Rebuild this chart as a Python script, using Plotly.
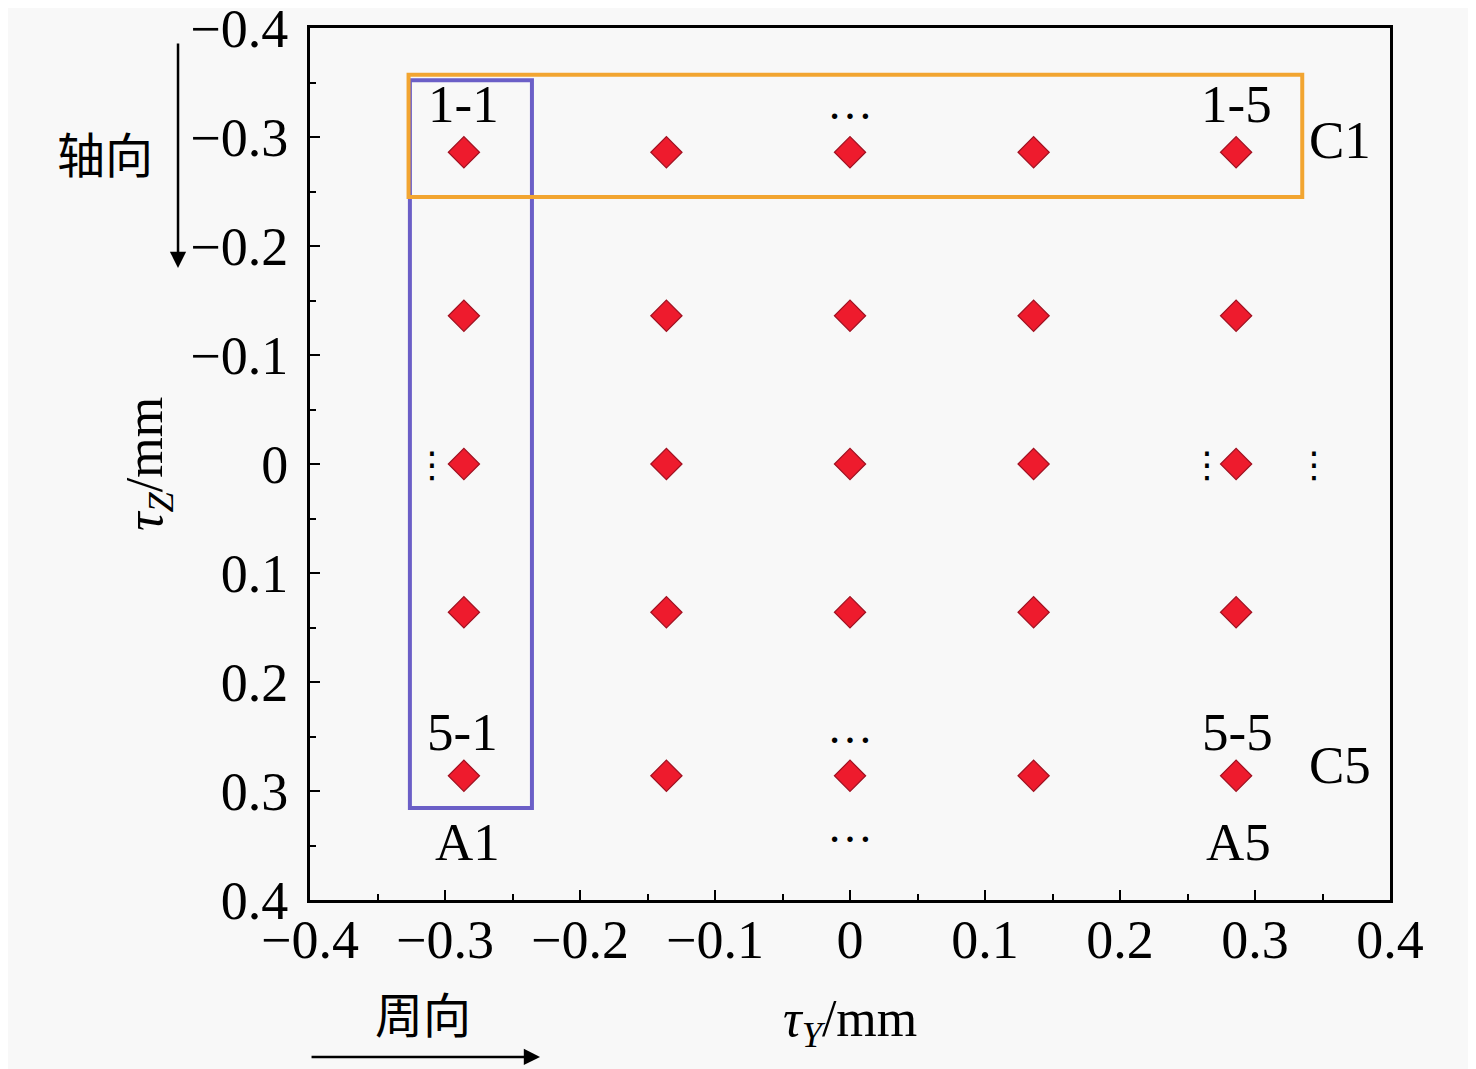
import plotly.graph_objects as go

# Data
grid_x = [-0.286, -0.136, 0.0, 0.136, 0.286]
grid_z = [-0.286, -0.136, 0.0, 0.136, 0.286]
x_ticks = [-0.4, -0.3, -0.2, -0.1, 0, 0.1, 0.2, 0.3, 0.4]
x_ticktext = ["\u22120.4", "\u22120.3", "\u22120.2", "\u22120.1", "0", "0.1", "0.2", "0.3", "0.4"]
y_ticks = [-0.4, -0.3, -0.2, -0.1, 0, 0.1, 0.2, 0.3, 0.4]
y_ticktext = ["\u22120.4", "\u22120.3", "\u22120.2", "\u22120.1", "0", "0.1", "0.2", "0.3", "0.4"]

# rectangles (data coords): C1 row box, A1 column box
c1_box = dict(x0=-0.327, x1=0.335, y0=-0.357, y1=-0.245)
a1_box = dict(x0=-0.326, x1=-0.2356, y0=-0.352, y1=0.3156)

# point labels
labels = [
    ("1-1", -0.286, -0.330), ("1-5", 0.286, -0.330),
    ("5-1", -0.287, 0.246), ("5-5", 0.287, 0.246),
    ("C1", 0.363, -0.297), ("C5", 0.363, 0.276),
    ("A1", -0.283, 0.347), ("A5", 0.288, 0.347),
]
hdots = [(0.0, -0.331), (0.0, 0.242), (0.0, 0.333)]
vdots = [-0.31, 0.2644, 0.3437]

FONT = "Liberation Serif, Times New Roman, serif"
CJK = "Noto Sans CJK SC"

px, pz = [], []
for z in grid_z:
    for x in grid_x:
        px.append(x)
        pz.append(z)

fig = go.Figure()
fig.add_trace(go.Scatter(
    x=px, y=pz, mode="markers",
    marker=dict(symbol="diamond", size=24, color="#ee1b2d",
                line=dict(color="#a01020", width=1.2)),
    showlegend=False, hoverinfo="skip"))

shapes = [
    dict(type="rect", xref="x", yref="y", line=dict(color="#6b5fc7", width=4),
         fillcolor="rgba(0,0,0,0)", **a1_box),
    dict(type="rect", xref="x", yref="y", line=dict(color="#f2a531", width=4),
         fillcolor="rgba(0,0,0,0)", **c1_box),
]

ann = []
for t, x, y in labels:
    ann.append(dict(x=x, y=y, xref="x", yref="y", text=t, showarrow=False,
                    xanchor="center", yanchor="middle",
                    font=dict(family=FONT, size=53, color="black")))
for x, y in hdots:
    ann.append(dict(x=x, y=y, xref="x", yref="y", text="\u2026", showarrow=False,
                    xanchor="center", yanchor="middle",
                    font=dict(family=FONT, size=46, color="black")))
for x in vdots:
    ann.append(dict(x=x, y=0.0, xref="x", yref="y", text="\u22ee", showarrow=False,
                    xanchor="center", yanchor="middle",
                    font=dict(family="DejaVu Sans", size=36, color="black")))

# axis titles
ann.append(dict(x=-0.15, y=0.5, xref="paper", yref="paper",
                text="<i>\u03c4</i><sub><i>Z</i></sub>/mm", textangle=-90, showarrow=False,
                xanchor="center", yanchor="middle",
                font=dict(family=FONT, size=52, color="black")))
ann.append(dict(x=0.5, y=-0.14, xref="paper", yref="paper",
                text="<i>\u03c4</i><sub><i>Y</i></sub>/mm", showarrow=False,
                xanchor="center", yanchor="middle",
                font=dict(family=FONT, size=52, color="black")))
# direction labels and arrows
ann.append(dict(x=-0.19, y=0.858, xref="paper", yref="paper", text="轴向", showarrow=False,
                xanchor="center", yanchor="middle",
                font=dict(family=CJK, size=48, color="black")))
ann.append(dict(x=0.105, y=-0.128, xref="paper", yref="paper", text="周向", showarrow=False,
                xanchor="center", yanchor="middle",
                font=dict(family=CJK, size=48, color="black")))
ann.append(dict(x=-0.1222, y=0.7248, xref="paper", yref="paper", ax=0, ay=-226,
                axref="pixel", ayref="pixel", text="", showarrow=True,
                arrowhead=2, arrowsize=1.3, arrowwidth=2.5, arrowcolor="black"))
ann.append(dict(x=0.213, y=-0.18, xref="paper", yref="paper", ax=-230, ay=0,
                axref="pixel", ayref="pixel", text="", showarrow=True,
                arrowhead=2, arrowsize=1.3, arrowwidth=2.5, arrowcolor="black"))

axis_common = dict(showgrid=False, zeroline=False, showline=True, linecolor="black",
                   linewidth=3, mirror=True, ticks="inside", ticklen=10, tickwidth=2,
                   tickcolor="black", automargin=False, ticklabeloverflow="allow",
                   tickfont=dict(family=FONT, size=54, color="black"),
                   minor=dict(ticks="inside", ticklen=6, tickwidth=2, tickcolor="black",
                              dtick=0.05, showgrid=False))

fig.update_layout(
    width=1476, height=1069,
    margin=dict(l=302, r=94, t=20, b=177, autoexpand=False),
    paper_bgcolor="#f8f8f8", plot_bgcolor="#f8f8f8",
    xaxis=dict(range=[-0.4, 0.4], tickvals=x_ticks, ticktext=x_ticktext,
               ticklabelstandoff=-10, **axis_common),
    yaxis=dict(range=[0.4, -0.4], tickvals=y_ticks, ticktext=y_ticktext,
               ticklabelstandoff=8, **axis_common),
    shapes=shapes, annotations=ann, showlegend=False,
)

fig.write_html("out.html")
